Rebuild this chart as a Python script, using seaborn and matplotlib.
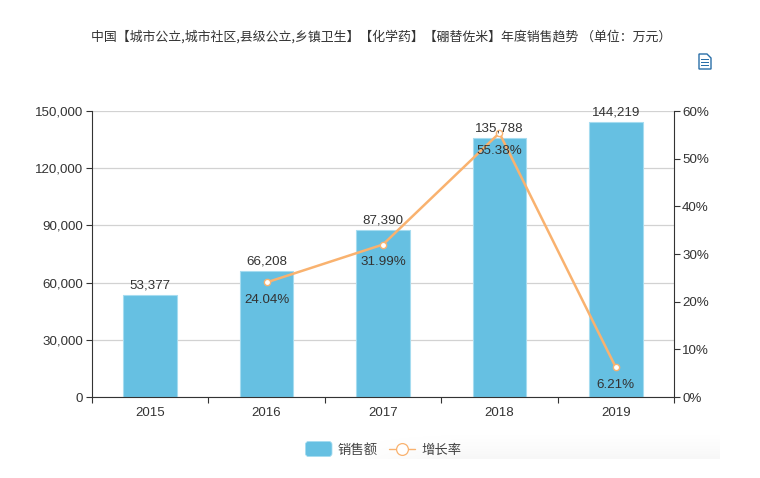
import numpy as np
import pandas as pd
import matplotlib
matplotlib.use("Agg")
import matplotlib.pyplot as plt
import seaborn as sns
from matplotlib.lines import Line2D
from matplotlib.patches import FancyBboxPatch, Polygon, Rectangle

years = ["2015", "2016", "2017", "2018", "2019"]
sales = [53377, 66208, 87390, 135788, 144219]
growth = [np.nan, 24.04, 31.99, 55.38, 6.21]

sales_ticks = [0, 30000, 60000, 90000, 120000, 150000]
growth_ticks = [0, 10, 20, 30, 40, 50, 60]

title = "中国【城市公立,城市社区,县级公立,乡镇卫生】【化学药】【硼替佐米】年度销售趋势 （单位：万元）"

BAR = "#66c0e2"
LINE = "#f9b26f"
TEXT = "#333333"

sns.set_theme(style="white")
plt.rcParams["font.family"] = ["Liberation Sans", "Noto Sans CJK SC", "DejaVu Sans"]

df = pd.DataFrame({"year": years, "sales": sales, "growth": growth})

W, H = 760, 478
fig = plt.figure(figsize=(W / 100, H / 100), dpi=100)
ax = fig.add_axes([92 / W, 1 - 397 / H, 582 / W, 286 / H])

ax.yaxis.grid(True, color="#d2d2d2", lw=0.9)
ax.set_axisbelow(True)
sns.barplot(data=df, x="year", y="sales", color=BAR, saturation=1, width=0.46,
            edgecolor="#a6dcf0", linewidth=0.8, ax=ax)
ax.set_xlim(-0.5, 4.5)
ax.set_ylim(0, 150000)
ax.set_xlabel("")
ax.set_ylabel("")
ax.set_yticks(sales_ticks)
ax.set_yticklabels([f"{v:,}" for v in sales_ticks])

# ticks sit between the categories, labels stay centred
ax.set_xticks(np.arange(-0.5, 5, 1))
ax.set_xticklabels([])
ax.set_xticks(range(5), years, minor=True)
ax.tick_params(axis="x", which="major", bottom=True, length=4.3, width=0.8, color="#333333")
ax.tick_params(axis="x", which="minor", bottom=False, length=0, pad=7, labelsize=9.5, labelcolor=TEXT)
ax.tick_params(axis="y", length=4.3, width=0.8, color="#333333", pad=2, labelsize=9.6, labelcolor=TEXT, left=True)

for name in ["top", "right"]:
    ax.spines[name].set_visible(False)
for name in ["left", "bottom"]:
    ax.spines[name].set_color("#333333")
    ax.spines[name].set_linewidth(0.8)

ax2 = ax.twinx()
sns.lineplot(data=df, x="year", y="growth", color=LINE, lw=1.8, marker="o", ms=4.5,
             mfc="white", mec=LINE, mew=1, ax=ax2, legend=False)
ax2.set_ylim(0, 60)
ax2.set_xlim(-0.5, 4.5)
ax2.set_ylabel("")
ax2.set_xlabel("")
ax2.set_yticks(growth_ticks)
ax2.set_yticklabels([f"{v}%" for v in growth_ticks])
ax2.tick_params(axis="y", length=4.3, width=0.8, color="#333333", pad=1.5, labelsize=9.6, labelcolor=TEXT, right=True)
for name in ["top", "left", "bottom"]:
    ax2.spines[name].set_visible(False)
ax2.spines["right"].set_color("#333333")
ax2.spines["right"].set_linewidth(0.8)

for i, v in enumerate(sales):
    ax2.annotate(f"{v:,}", (i, v / 2500), xytext=(0, 2.5), textcoords="offset points",
                 ha="center", va="bottom", fontsize=9.6, color=TEXT)
for i, v in enumerate(growth):
    if not np.isnan(v):
        ax2.annotate(f"{v:.2f}%", (i, v), xytext=(0, -8.5), textcoords="offset points",
                     ha="center", va="top", fontsize=9.6, color=TEXT)

fig.text(381 / W, 1 - 36.5 / H, title, ha="center", va="center", fontsize=9.3, color="#333333",
         family=["Noto Sans CJK SC", "DejaVu Sans"])

# faint shaded strip behind the legend, fading out to the left and the top
fade_x = np.clip(np.linspace(0, 3, 390), 0, 1)
fade_y = np.linspace(0, 1, 32) ** 1.5
shade = 1 - 0.035 * np.outer(fade_y, fade_x)
strip = fig.add_axes([330 / W, 1 - 459 / H, 390 / W, 32 / H], zorder=0)
strip.imshow(shade, cmap="gray", vmin=0, vmax=1, aspect="auto")
strip.axis("off")

# document icon in the top right corner
icon_color = "#2a6fa8"
fig.add_artist(Polygon([(699 / W, 1 - 54 / H), (707 / W, 1 - 54 / H), (711 / W, 1 - 58 / H),
                        (711 / W, 1 - 69 / H), (699 / W, 1 - 69 / H)],
                       closed=True, fc="white", ec=icon_color, lw=1, transform=fig.transFigure))
for y in [59, 62, 65]:
    fig.add_artist(Rectangle((701 / W, 1 - (y + 1) / H), 8 / W, 1 / H, fc=icon_color, ec="none",
                             transform=fig.transFigure))

# legend
leg_ax = fig.add_axes([0, 0, 1, 1], zorder=2)
leg_ax.set_xlim(0, W)
leg_ax.set_ylim(H, 0)
leg_ax.axis("off")
leg_ax.add_patch(FancyBboxPatch((305.5, 441.5), 26.5, 15, boxstyle="round,pad=0,rounding_size=3",
                                fc=BAR, ec="#a6dcf0", lw=0.6))
leg_ax.text(338, 450, "销售额", fontsize=9.6, color="#444444", va="center", ha="left",
            family=["Noto Sans CJK SC", "DejaVu Sans"])
leg_ax.add_line(Line2D([389, 415], [449, 449], color=LINE, lw=1))
leg_ax.add_line(Line2D([402], [449], color=LINE, marker="o", ms=8.5, mfc="white", mec=LINE, mew=0.9))
leg_ax.text(421, 450, "增长率", fontsize=9.6, color="#444444", va="center", ha="left",
            family=["Noto Sans CJK SC", "DejaVu Sans"])

fig.savefig("out.png", dpi=100)
plt.close(fig)
